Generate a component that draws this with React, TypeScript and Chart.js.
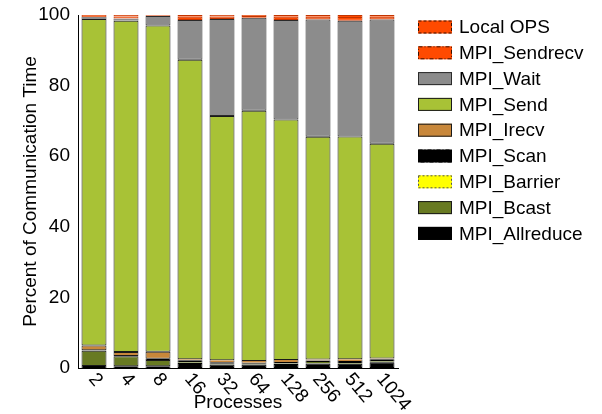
import React, { useEffect, useRef } from "react";
import { Chart, registerables } from "chart.js";

Chart.register(...registerables);

const processes = ["2", "4", "8", "16", "32", "64", "128", "256", "512", "1024"];

const allreduce = [0.6, 0.5, 0.5, 1.4, 1.0, 1.0, 1.1, 1.3, 1.2, 1.6];
const bcast = [4.3, 2.8, 1.8, 0.2, 0.2, 0.2, 0.2, 0.4, 0.2, 0.3];
const barrier = [0, 0, 0, 0, 0, 0, 0, 0, 0, 0];
const scan = [0.1, 0.1, 0.3, 0.6, 0.4, 0.3, 0.4, 0.4, 0.6, 0.6];
const irecv = [1.4, 1.1, 2.0, 0.3, 0.6, 0.5, 0.6, 0.3, 0.5, 0.2];
const send = [92.5, 93.9, 92.4, 84.8, 69.2, 70.9, 68.1, 63.1, 63.1, 60.8];
const wait = [0.5, 0.6, 2.7, 11.3, 27.5, 26.3, 28.2, 33.2, 32.8, 35.2];
const sendrecv = [0.3, 0.6, 0.2, 0.9, 0.7, 0.5, 0.9, 0.8, 1.0, 0.8];
const localOps = [0.3, 0.4, 0.1, 0.5, 0.4, 0.3, 0.5, 0.5, 0.6, 0.5];

const yMin = 0;
const yMax = 100;
const yStep = 20;

const FONT = "'Liberation Sans', Arial, sans-serif";
const FS = 19;

type Series = { name: string; data: number[]; color: string; dash: number[]; border: string };

const series: Series[] = [
  { name: "MPI_Allreduce", data: allreduce, color: "#000000", dash: [], border: "#000000" },
  { name: "MPI_Bcast", data: bcast, color: "#687a22", dash: [], border: "#1a1a1a" },
  { name: "MPI_Barrier", data: barrier, color: "#ffff00", dash: [2, 2], border: "#555555" },
  { name: "MPI_Scan", data: scan, color: "#000000", dash: [4, 2, 1, 2], border: "#000000" },
  { name: "MPI_Irecv", data: irecv, color: "#c8873a", dash: [], border: "#1a1a1a" },
  { name: "MPI_Send", data: send, color: "#a8c236", dash: [], border: "#1a1a1a" },
  { name: "MPI_Wait", data: wait, color: "#8c8c8c", dash: [], border: "#2a2a2a" },
  { name: "MPI_Sendrecv", data: sendrecv, color: "#ff4a00", dash: [4, 2, 1, 2], border: "#3a1000" },
  { name: "Local OPS", data: localOps, color: "#ff4a00", dash: [3, 2], border: "#3a1000" },
];

const overlayPlugin = {
  id: "overlay",
  afterDraw(chart: any) {
    const ctx = chart.ctx as CanvasRenderingContext2D;
    const xs = chart.scales.x;
    const area = chart.chartArea;
    ctx.save();
    ctx.font = `${FS}px ${FONT}`;
    ctx.fillStyle = "#000";
    // rotated category labels
    processes.forEach((lab, i) => {
      const px = xs.getPixelForValue(i);
      ctx.save();
      ctx.translate(px - 2, area.bottom + 8);
      ctx.rotate((50 * Math.PI) / 180);
      ctx.textAlign = "left";
      ctx.textBaseline = "middle";
      ctx.fillText(lab, 0, 0);
      ctx.restore();
    });
    // legend (top of stack first)
    const items = [...series].reverse();
    const lx = area.right + 20;
    const top = area.top + 12;
    const rowH = 25.8;
    const bw = 34;
    const bh = 13;
    items.forEach((s, k) => {
      const cy = top + k * rowH;
      ctx.fillStyle = s.color;
      ctx.fillRect(lx, cy - bh / 2, bw, bh);
      ctx.strokeStyle = s.border;
      ctx.lineWidth = 1;
      ctx.setLineDash(s.dash);
      ctx.strokeRect(lx + 0.5, cy - bh / 2 + 0.5, bw - 1, bh - 1);
      ctx.setLineDash([]);
      ctx.fillStyle = "#000";
      ctx.textAlign = "left";
      ctx.textBaseline = "middle";
      ctx.fillText(s.name, lx + bw + 7, cy + 1);
    });
    ctx.restore();
  },
};

export default function App() {
  const ref = useRef<HTMLCanvasElement | null>(null);

  useEffect(() => {
    if (!ref.current) return;
    Chart.defaults.font.family = FONT;
    Chart.defaults.color = "#000";
    const chart = new Chart(ref.current, {
      type: "bar",
      data: {
        labels: processes,
        datasets: series.map((s) => {
          const isOrange = s.color === "#ff4a00";
          return {
            label: s.name,
            data: s.data,
            backgroundColor: s.color,
            borderColor: isOrange ? "#c23400" : s.border,
            borderWidth: (c: any) => {
              const v = c.raw as number;
              if (!v) return 0;
              if (v < 0.7) return { left: 1, right: 1, top: isOrange ? 1 : 0, bottom: 0 };
              return 1;
            },
            borderSkipped: false,
            barPercentage: 0.78,
            categoryPercentage: 1,
          };
        }),
      },
      options: {
        responsive: false,
        animation: false,
        layout: { padding: { top: 15, right: 204, left: 0, bottom: 0 } },
        plugins: {
          legend: { display: false },
          tooltip: { enabled: false },
        },
        scales: {
          x: {
            stacked: true,
            grid: { display: false, drawTicks: false },
            border: { display: true, color: "#000", width: 1 },
            ticks: { display: false },
            title: {
              display: true,
              text: "Processes",
              font: { size: FS, family: FONT },
              color: "#000",
              padding: { top: 0, bottom: 0 },
            },
            afterFit: (scale: any) => {
              scale.height = 46;
              scale.paddingLeft = 0;
              scale.paddingRight = 0;
            },
          },
          y: {
            stacked: true,
            min: yMin,
            max: yMax,
            grid: { display: false, drawTicks: false },
            border: { display: true, color: "#000", width: 1 },
            ticks: {
              stepSize: yStep,
              padding: 8,
              font: { size: FS, family: FONT },
              color: "#000",
            },
            title: {
              display: true,
              text: "Percent of Communication Time",
              font: { size: FS, family: FONT },
              color: "#000",
              padding: { top: 19, bottom: 0 },
            },
            afterFit: (scale: any) => {
              scale.width = 78;
              scale.paddingTop = 0;
              scale.paddingBottom = 0;
            },
          },
        },
      },
      plugins: [overlayPlugin],
    });
    return () => chart.destroy();
  }, []);

  return (
    <div style={{ position: "fixed", left: 0, top: 0, width: 602, height: 414, background: "#fff" }}>
      <canvas ref={ref} width={602} height={414} style={{ display: "block" }} />
    </div>
  );
}
